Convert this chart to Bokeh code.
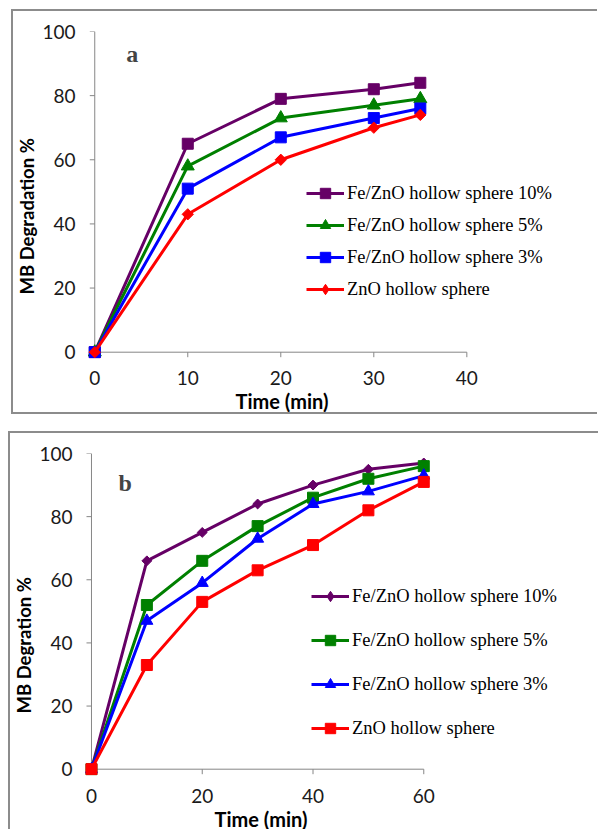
import numpy as np
from bokeh.plotting import figure
from bokeh.layouts import column
from bokeh.models import FixedTicker, Label, Legend, LegendItem, Title
from bokeh.embed import file_html
from bokeh.resources import INLINE

# ---------------- data ----------------
time_a = [0, 10, 20, 30, 35]
a_fe10 = [0, 65, 79, 82, 84]
a_fe5 = [0, 58, 73, 77, 79]
a_fe3 = [0, 51, 67, 73, 76]
a_zno = [0, 43, 60, 70, 74]

time_b = [0, 10, 20, 30, 40, 50, 60]
b_fe10 = [0, 66, 75, 84, 90, 95, 97]
b_fe5 = [0, 52, 66, 77, 86, 92, 96]
b_fe3 = [0, 47, 59, 73, 84, 88, 93]
b_zno = [0, 33, 53, 63, 71, 82, 91]

labels = ["Fe/ZnO hollow sphere 10%", "Fe/ZnO hollow sphere 5%",
          "Fe/ZnO hollow sphere 3%", "ZnO hollow sphere"]
xticks_a = [0, 10, 20, 30, 40]
xticks_b = [0, 20, 40, 60]
yticks = [0, 20, 40, 60, 80, 100]

PURPLE, GREEN, BLUE, RED = "#660066", "#008000", "#0000FF", "#FF0000"
AXIS_COLOR = "#868686"
BORDER = "2px solid #8c8c8c"
TICK_FONT = "Lato"
TITLE_FONT = "Lato"


def draw_axes(p, xticks, xlen_tick, ylen_tick, xt_standoff, yl_standoff):
    # axis rules and tick marks at the data zero lines
    p.line([xticks[0], xticks[-1]], [0, 0], line_color=AXIS_COLOR, line_width=1)
    p.line([0, 0], [yticks[0], yticks[-1]], line_color=AXIS_COLOR, line_width=1)
    p.segment(x0=xticks, y0=[0] * len(xticks), x1=xticks,
              y1=[-xlen_tick] * len(xticks), line_color=AXIS_COLOR, line_width=1)
    p.segment(x0=[0] * len(yticks), y0=yticks, x1=[-ylen_tick] * len(yticks),
              y1=yticks, line_color=AXIS_COLOR, line_width=1)

    xa = p.xaxis[0]
    ya = p.yaxis[0]
    xa.ticker = FixedTicker(ticks=xticks)
    ya.ticker = FixedTicker(ticks=yticks)
    for ax in (xa, ya):
        ax.axis_line_color = None
        ax.major_tick_line_color = None
        ax.minor_tick_line_color = None
        ax.major_tick_in = 0
        ax.major_tick_out = 0
        ax.minor_tick_in = 0
        ax.minor_tick_out = 0
        ax.major_label_text_font = TICK_FONT
        ax.major_label_text_font_size = "19px"
        ax.major_label_text_color = "#1a1a1a"
    xa.major_label_standoff = xt_standoff
    ya.major_label_standoff = yl_standoff
    p.grid.visible = False
    p.outline_line_color = None


def add_titles(p, ytext, y_offset, x_offset):
    p.add_layout(Title(text="Time (min)", align="left", vertical_align="middle",
                       offset=x_offset, standoff=0, text_font=TITLE_FONT,
                       text_font_style="bold", text_font_size="20px",
                       text_color="#000000"), "below")
    p.add_layout(Title(text=ytext, align="left", vertical_align="middle",
                       offset=y_offset, standoff=2, text_font=TITLE_FONT,
                       text_font_style="bold", text_font_size="18.5px",
                       text_color="#000000"), "left")


def add_series(p, x, ys, colors, markers, sizes, loc, spacing):
    items = []
    for y, lab, c, m, s in zip(ys, labels, colors, markers, sizes):
        ln = p.line(x, y, line_color=c, line_width=3)
        if m == "diamond":
            p.scatter(x, y, marker="square", size=s, angle=np.pi / 4,
                      fill_color=c, line_color=c)
            # legend-only diamond (no points drawn in the plot)
            mk = p.scatter([np.nan], [np.nan], marker="diamond", fill_color=c,
                           line_color=c)
        else:
            mk = p.scatter(x, y, marker=m, size=s, fill_color=c, line_color=c)
        items.append(LegendItem(label=lab, renderers=[ln, mk]))
    lg = Legend(items=items, location=loc, border_line_color=None,
                background_fill_alpha=0, padding=0, margin=0, spacing=spacing,
                glyph_width=38, glyph_height=26, label_standoff=3,
                label_text_font="Liberation Serif",
                label_text_font_size="18.5px", label_text_color="#000000")
    p.add_layout(lg, "center")


def panel_label(p, text, x, y):
    p.add_layout(Label(x=x, y=y, text=text, text_font="Liberation Serif",
                       text_font_style="bold", text_font_size="24px",
                       text_align="center", text_baseline="alphabetic"))


# ---------------- panel a ----------------
pa = figure(width=586, height=405, x_range=(-0.887, 50.5),
            y_range=(-1.964, 100), output_backend="svg",
            toolbar_location=None, min_border_left=71, min_border_right=34,
            min_border_top=20, min_border_bottom=58,
            background_fill_color="white", border_fill_color="white")
draw_axes(pa, xticks_a, 1.559, 0.534, 12, 11)
add_titles(pa, "MB Degradation %", 64, 149)
add_series(pa, time_a, [a_fe10, a_fe5, a_fe3, a_zno],
           [PURPLE, GREEN, BLUE, RED],
           ["square", "triangle", "square", "diamond"],
           [11, 13, 11, 8], (220, 56), 6)
panel_label(pa, "a", 4.03, 93.1)
pa.margin = (9, 0, 0, 11)
pa.styles = {"border-left": BORDER, "border-top": BORDER,
             "border-bottom": BORDER}

# ---------------- panel b ----------------
pb = figure(width=590, height=398, x_range=(-1.441, 85.59),
            y_range=(-1.996, 100), output_backend="svg",
            toolbar_location=None, min_border_left=72, min_border_right=35,
            min_border_top=20, min_border_bottom=56,
            background_fill_color="white", border_fill_color="white")
draw_axes(pb, xticks_b, 1.584, 0.9, 13, 11)
add_titles(pb, "MB Degration %", 62, 131)
add_series(pb, time_b, [b_fe10, b_fe5, b_fe3, b_zno],
           [PURPLE, GREEN, BLUE, RED],
           ["diamond", "square", "triangle", "square"],
           [7, 11, 12, 11], (228, 34), 18)
panel_label(pb, "b", 6.07, 90.5)
pb.margin = (17, 0, 0, 8)
pb.styles = {"border-left": BORDER, "border-top": BORDER}

layout = column(pa, pb)
open("out.html", "w").write(file_html(layout, INLINE))
